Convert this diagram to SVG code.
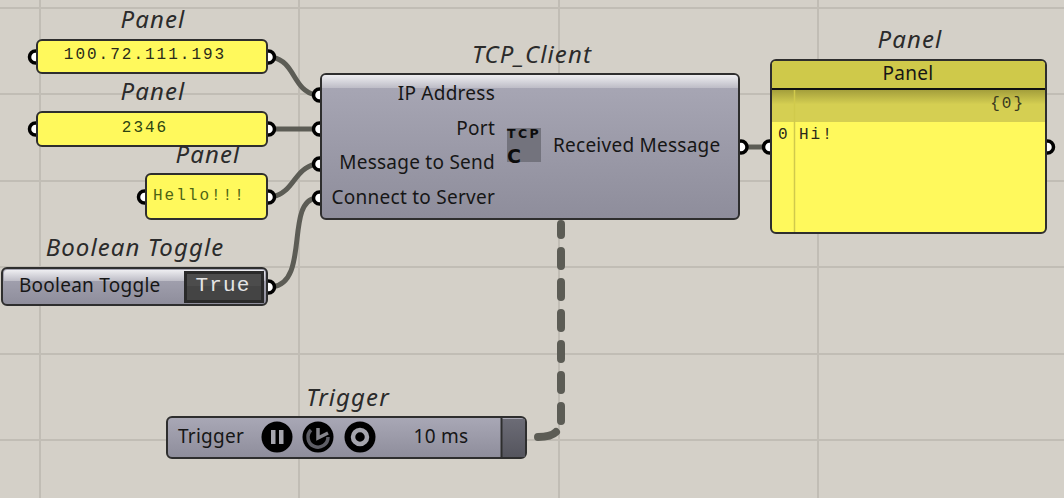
<svg xmlns="http://www.w3.org/2000/svg" width="1064" height="498" viewBox="0 0 1064 498">
<style>
.grid{stroke:#c1bdb5;stroke-width:2;fill:none}
.wire{stroke:#5c5c55;stroke-width:5;fill:none;stroke-linecap:round}
.dash{stroke:#5c5c55;stroke-width:8;fill:none;stroke-linecap:round}
.grip{fill:#fff;stroke:#000;stroke-width:3.5}
.box{stroke:#2e2e2e;stroke-width:2}
.title{font-family:"Noto Sans","Open Sans",sans-serif;font-style:italic;font-size:24px;letter-spacing:1.1px;fill:#2b2b2b;text-anchor:middle}
.lab{font-family:"Noto Sans","Open Sans",sans-serif;font-size:19px;letter-spacing:.25px;fill:#161616}
.end{text-anchor:end}
.mono{font-family:"Liberation Mono",monospace;font-size:16px;letter-spacing:2px;fill:#2a2a1a}
</style>
<defs>
<linearGradient id="metal" x1="0" y1="0" x2="0" y2="1"><stop offset="0" stop-color="#a9a8b6"/><stop offset="1" stop-color="#8e8d9b"/></linearGradient>
<linearGradient id="gloss" x1="0" y1="0" x2="0" y2="1"><stop offset="0" stop-color="#eeeef1"/><stop offset="1" stop-color="#bdbcc6"/></linearGradient>
<linearGradient id="shade" x1="0" y1="0" x2="0" y2="1"><stop offset="0" stop-color="#a49f3c"/><stop offset="0.45" stop-color="#d5cf52"/><stop offset="1" stop-color="#d5cf52"/></linearGradient>
<linearGradient id="dark" x1="0" y1="0" x2="0" y2="1"><stop offset="0" stop-color="#6c6c76"/><stop offset="1" stop-color="#55555e"/></linearGradient>
</defs>
<rect width="1064" height="498" fill="#d4d0c8"/>
<g id="grid" class="grid">
<path d="M40 0V498M299 0V498M559 0V498M818 0V498M0 8H1064M0 94H1064M0 181H1064M0 267H1064M0 354H1064M0 440H1064"/>
</g>
<g id="connectors">
<path class="wire" d="M272 57C296 62 292 90 316 95"/>
<path class="wire" d="M272 129H316"/>
<path class="wire" d="M272 197C295 192 293 169 316 164"/>
<path class="wire" d="M272 287C310 283 285 202 316 198"/>
<path class="wire" d="M745 147H765"/>
<path class="dash" d="M561 224V436" stroke-dasharray="15 16" stroke-dashoffset="4"/>
<path class="dash" d="M538 437C546 437 552 436 556 432"/>
</g>
<g id="panel-ip">
<text class="title" x="153" y="28">Panel</text>
<circle class="grip" cx="35.500" cy="57" r="6"/><circle class="grip" cx="268.500" cy="57" r="6"/>
<rect class="box" x="37" y="40" width="230" height="33" rx="5" fill="#fff95c"/>
<text class="mono" x="145" y="59" text-anchor="middle">100.72.111.193</text>
</g>
<g id="panel-port">
<text class="title" x="153" y="100">Panel</text>
<circle class="grip" cx="35.500" cy="129" r="6"/><circle class="grip" cx="268.500" cy="129" r="6"/>
<rect class="box" x="37" y="112" width="230" height="34" rx="5" fill="#fff95c"/>
<text class="mono" x="145" y="132" text-anchor="middle" style="fill:#2c4410">2346</text>
</g>
<g id="panel-hello">
<text class="title" x="208" y="163">Panel</text>
<circle class="grip" cx="144.500" cy="197" r="6"/><circle class="grip" cx="268.500" cy="197" r="6"/>
<rect class="box" x="146" y="174" width="121" height="45" rx="5" fill="#fff95c"/>
<text class="mono" x="153" y="200" style="fill:#4c6414">Hello!!!</text>
</g>
<g id="boolean-toggle">
<text class="title" x="135" y="256">Boolean Toggle</text>
<circle class="grip" cx="268.500" cy="287" r="6"/>
<rect class="box" x="2" y="268" width="265" height="37" rx="5" fill="url(#metal)"/>
<path d="M4 273a3 3 0 0 1 3-3H262a3 3 0 0 1 3 3V281H4Z" fill="url(#gloss)"/>
<text class="lab" x="19" y="292">Boolean Toggle</text>
<rect x="184" y="271" width="80" height="32" fill="#2a2a2a"/>
<rect x="187" y="274" width="74" height="26" fill="#444"/>
<rect x="187" y="274" width="74" height="12" fill="#4c4c4c"/>
<text x="223" y="291" text-anchor="middle" font-family="Liberation Mono,monospace" font-size="21" letter-spacing="1.200" fill="#e4e4e4">True</text>
</g>
<g id="tcp-client">
<text class="title" x="532" y="63">TCP_Client</text>
<circle class="grip" cx="319.500" cy="95" r="6"/><circle class="grip" cx="319.500" cy="129" r="6"/><circle class="grip" cx="319.500" cy="164" r="6"/><circle class="grip" cx="319.500" cy="198" r="6"/><circle class="grip" cx="741" cy="147" r="6"/>
<rect class="box" x="321" y="74" width="418" height="145" rx="5" fill="url(#metal)"/>
<path d="M322 79a4 4 0 0 1 4-4H734a4 4 0 0 1 4 4V88H322Z" fill="url(#gloss)"/>
<text class="lab end" x="495" y="100">IP Address</text>
<text class="lab end" x="495" y="135">Port</text>
<text class="lab end" x="495" y="169">Message to Send</text>
<text class="lab end" x="495" y="204">Connect to Server</text>
<rect x="507" y="128" width="34" height="34" fill="#73737d"/>
<text x="507" y="138" font-family="DejaVu Sans,sans-serif" font-weight="bold" font-size="12.500" letter-spacing="2.400" fill="#0c0c0c">TCP</text>
<text x="507" y="163" font-family="DejaVu Sans,sans-serif" font-weight="bold" font-size="19" fill="#0c0c0c">C</text>
<text class="lab" x="553" y="152">Received Message</text>
</g>
<g id="panel-output">
<text class="title" x="910" y="48">Panel</text>
<circle class="grip" cx="769.500" cy="147" r="6"/><circle class="grip" cx="1047.500" cy="147" r="6"/>
<rect class="box" x="771" y="60" width="275" height="173" rx="5" fill="#fff95c"/>
<path d="M772 65a4 4 0 0 1 4-4H1041a4 4 0 0 1 4 4V89H772Z" fill="#cfc94a"/>
<rect x="772" y="90" width="273" height="32" fill="url(#shade)"/>
<path d="M772 89H1045" stroke="#111" stroke-width="2"/>
<path d="M794.500 90V232" stroke="#d0ca4c" stroke-width="1.500"/>
<text x="908" y="80" text-anchor="middle" class="lab">Panel</text>
<text class="mono" x="1025" y="108" text-anchor="end" style="fill:#3a3a20">{0}</text>
<text class="mono" x="778" y="139">0</text>
<text class="mono" x="799" y="139">Hi!</text>
</g>
<g id="trigger">
<text class="title" x="348" y="406">Trigger</text>
<rect class="box" x="167" y="417" width="359" height="41" rx="5" fill="url(#metal)"/>
<rect x="502" y="419" width="23" height="38" fill="url(#dark)"/>
<path d="M501.500 418V457" stroke="#2e2e2e" stroke-width="2"/>
<text class="lab" x="178" y="443">Trigger</text>
<circle cx="277" cy="437" r="15.500" fill="#000"/>
<rect x="271" y="430" width="4.500" height="14" fill="#a5a5ad"/><rect x="279" y="430" width="4.500" height="14" fill="#a5a5ad"/>
<circle cx="318" cy="437" r="15.500" fill="#000"/>
<path d="M311 430A10 10 0 1 0 328 437" fill="none" stroke="#5e5e66" stroke-width="3.500"/>
<path d="M318 428V438L328 433" fill="none" stroke="#85858c" stroke-width="3.500"/>
<circle cx="360" cy="437" r="15.500" fill="#000"/>
<circle cx="360" cy="437" r="7" fill="none" stroke="#a5a5ad" stroke-width="4.500"/>
<text class="lab" x="441" y="443" text-anchor="middle">10 ms</text>
</g>
</svg>
